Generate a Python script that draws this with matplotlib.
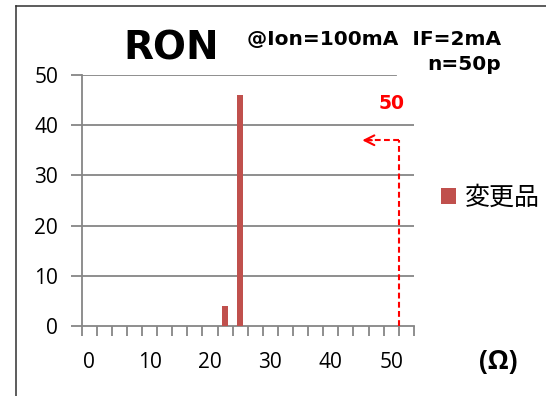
"""
RON histogram (changed parts) recreated from a spreadsheet chart.
"""

import matplotlib

matplotlib.use("Agg")
import matplotlib.pyplot as plt

plt.rcParams["font.family"] = ["Noto Sans CJK JP", "DejaVu Sans"]

# bin starts in ohm, 2.5 ohm wide
BINS = [i * 2.5 for i in range(22)]
COUNTS = [0, 0, 0, 0, 0, 0, 0, 0, 0, 4, 46, 0, 0, 0, 0, 0, 0, 0, 0, 0, 0, 0]
SERIES_NAME = "変更品"
Y_TICKS = [0, 10, 20, 30, 40, 50]
LIMIT = 50  # spec limit (ohm)
LIMIT_LABEL = "50"
ARROW_Y = 37

BAR_COLOR = "#C0504D"
AXIS_COLOR = "#868686"

fig = plt.figure(figsize=(5.46, 3.96), dpi=100)

# chart frame: only its top and left edges fall inside the picture
frame = fig.add_axes([15.5 / 546, -0.05, 1.0, 1.05 - 6 / 396], zorder=-1)
frame.set_xticks([])
frame.set_yticks([])
frame.patch.set_alpha(0)
for side, spine in frame.spines.items():
    spine.set_visible(side in ("top", "left"))
    spine.set_color("#303030")
    spine.set_linewidth(1.1)

ax = fig.add_axes([0.1496, 0.1768, 0.6084, 0.6338])

pos = list(range(len(BINS)))
ax.bar(pos, COUNTS, width=0.37, color=BAR_COLOR, label=SERIES_NAME, zorder=3)

ax.set_xlim(-0.5, len(BINS) - 0.5)
ax.set_ylim(0, 50)

# x labels on bins that fall on a multiple of 10
label_pos = [i for i, b in enumerate(BINS) if b % 10 == 0]
ax.set_xticks(label_pos)
ax.set_xticklabels([f"{BINS[i]:g}" for i in label_pos], family="Open Sans", fontsize=15)
ax.set_xticks([p - 0.5 for p in pos] + [len(BINS) - 0.5], minor=True)
ax.tick_params(axis="x", which="major", length=0, pad=19)
ax.tick_params(axis="x", which="minor", length=7, width=1.3, color=AXIS_COLOR, direction="out")

ax.set_yticks(Y_TICKS)
ax.set_yticklabels([str(v) for v in Y_TICKS], family="Open Sans", fontsize=15)
ax.tick_params(axis="y", length=8, width=1.3, color=AXIS_COLOR, pad=9)

for v in Y_TICKS[1:-1]:
    ax.axhline(v, color=AXIS_COLOR, lw=1.3, zorder=1)
ax.axhline(Y_TICKS[-1], xmax=0.947, color=AXIS_COLOR, lw=1.3, zorder=1)

for side in ["top", "right"]:
    ax.spines[side].set_visible(False)
for side in ["left", "bottom"]:
    ax.spines[side].set_color(AXIS_COLOR)
    ax.spines[side].set_linewidth(1.3)

# limit marker: dashed line going up from the axis then left with arrow
lim_x = BINS.index(LIMIT) + 0.5
dash = (0, (2.8, 1.6))
ax.plot([lim_x, lim_x], [0, ARROW_Y], color="red", ls=dash, lw=1.5, zorder=4, clip_on=False)
ax.plot([lim_x, lim_x - 2.4], [ARROW_Y, ARROW_Y], color="red", ls=dash, lw=1.5, zorder=4)
ax.annotate(
    "",
    xy=(lim_x - 2.6, ARROW_Y),
    xytext=(lim_x - 1.6, ARROW_Y),
    arrowprops=dict(arrowstyle="->,head_length=0.7,head_width=0.35", color="red", lw=1.5),
)
ax.text(lim_x - 0.5, 44.4, LIMIT_LABEL, color="red", fontsize=13.5, fontweight="bold",
        family="DejaVu Sans", ha="center", va="center")

fig.text(171 / 546, 1 - 48 / 396, "RON", fontsize=28, fontweight="bold",
         family="DejaVu Sans", ha="center", va="center")
fig.text(501 / 546, 1 - 39 / 396, "@Ion=100mA  IF=2mA", fontsize=14.5, fontweight="bold",
         family="DejaVu Sans", ha="right", va="center")
fig.text(501 / 546, 1 - 65 / 396, "n=50p", fontsize=14.5, fontweight="bold",
         family="DejaVu Sans", ha="right", va="center")
fig.text(498 / 546, 1 - 362 / 396, "(Ω)", fontsize=19, fontweight="bold",
         family="Open Sans", ha="center", va="center")

ax.legend(loc="center left", bbox_to_anchor=(441 / 546, 1 - 198 / 396), bbox_transform=fig.transFigure,
          frameon=False, fontsize=18, handlelength=0.6, handleheight=0.6, handletextpad=0.35,
          borderaxespad=0, borderpad=0)

fig.savefig("out.png", dpi=100)
